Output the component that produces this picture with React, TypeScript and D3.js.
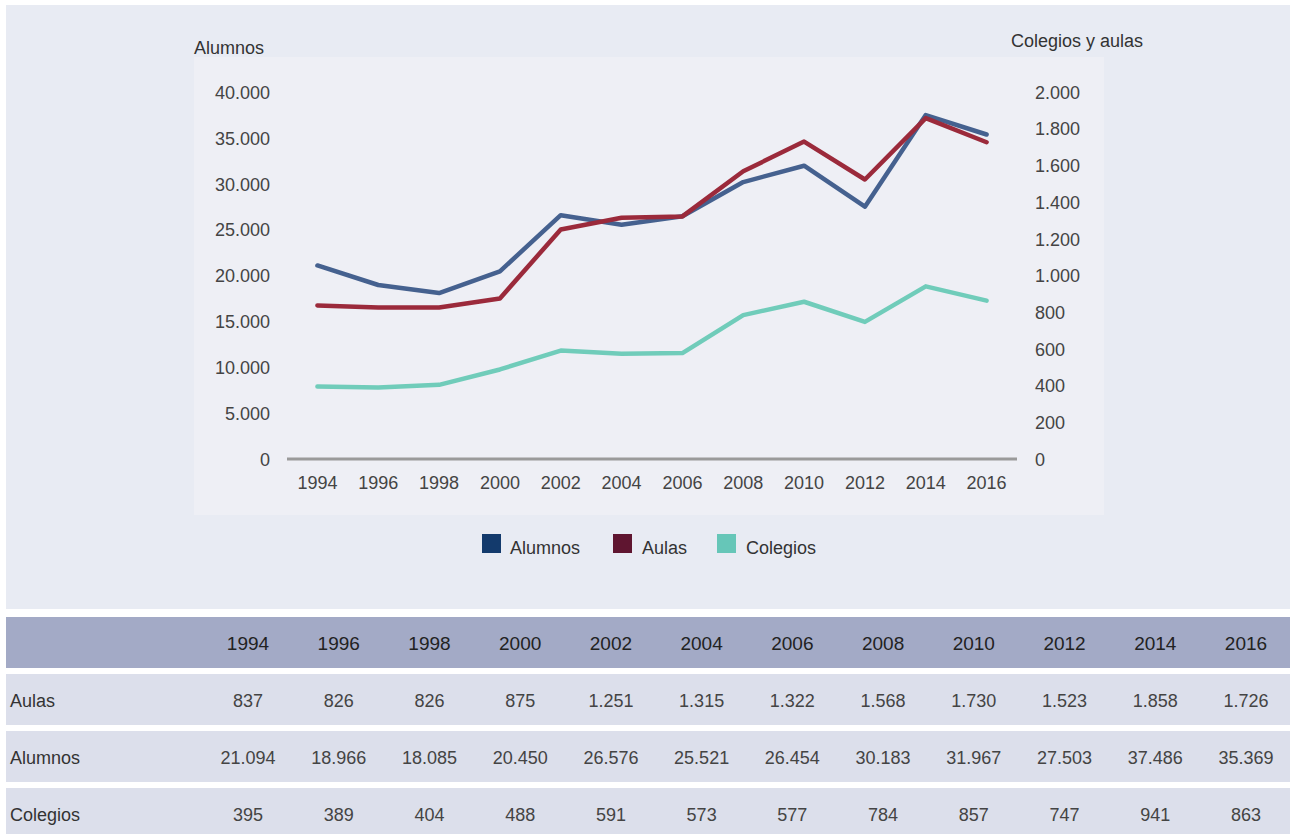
import React from "react";
import * as d3 from "d3";

const years = [1994, 1996, 1998, 2000, 2002, 2004, 2006, 2008, 2010, 2012, 2014, 2016];
const aulas = [837, 826, 826, 875, 1251, 1315, 1322, 1568, 1730, 1523, 1858, 1726];
const alumnos = [21094, 18966, 18085, 20450, 26576, 25521, 26454, 30183, 31967, 27503, 37486, 35369];
const colegios = [395, 389, 404, 488, 591, 573, 577, 784, 857, 747, 941, 863];
const leftTicks = [0, 5000, 10000, 15000, 20000, 25000, 30000, 35000, 40000];
const rightTicks = [0, 200, 400, 600, 800, 1000, 1200, 1400, 1600, 1800, 2000];

const esLocale = d3.formatLocale({ decimal: ",", thousands: ".", grouping: [3], currency: ["", "€"] });
const fmt = esLocale.format(",d");

const FONT = "'Liberation Sans', Arial, sans-serif";
const DY = 2;

export default function App() {
  const W = 1290, H = 834;
  const x = d3.scalePoint<number>().domain(years).range([287, 1017]).padding(0.5);
  const yL = d3.scaleLinear().domain([0, 40000]).range([459, 92]);
  const yR = d3.scaleLinear().domain([0, 2000]).range([459, 92]);
  const tx = d3.scalePoint<number>().domain(years).range([248, 1246]);

  const lineL = d3.line<number>().x((_, i) => x(years[i])!).y(d => yL(d));
  const lineR = d3.line<number>().x((_, i) => x(years[i])!).y(d => yR(d));

  const series = [
    { name: "Alumnos", d: lineL(alumnos), line: "#45618f", legend: "#133a6c" },
    { name: "Aulas", d: lineR(aulas), line: "#9b2a3b", legend: "#5f1530" },
    { name: "Colegios", d: lineR(colegios), line: "#70ccba", legend: "#66c6b8" },
  ];
  const drawOrder = [series[2], series[0], series[1]];

  const legendPos = [
    { sx: 482, tx: 510 },
    { sx: 613, tx: 642 },
    { sx: 717, tx: 746 },
  ];

  const rows = [
    { label: "Aulas", values: aulas, y0: 674, h: 51 },
    { label: "Alumnos", values: alumnos, y0: 731, h: 51 },
    { label: "Colegios", values: colegios, y0: 788, h: 51 },
  ];

  return (
    <svg width={W} height={H} style={{ position: "absolute", left: 0, top: 0, display: "block" }} fontFamily={FONT}>
      <rect x={0} y={0} width={W} height={H} fill="#ffffff" />
      <rect x={6} y={5} width={W - 6} height={604} fill="#e8ebf3" />
      <rect x={194} y={57} width={910} height={458} fill="#eeeff5" />

      <text x={194} y={47 + DY} fontSize={18} fill="#333" dominantBaseline="middle">Alumnos</text>
      <text x={1011} y={40 + DY} fontSize={18} fill="#333" dominantBaseline="middle">Colegios y aulas</text>

      {leftTicks.map(t => (
        <text key={"l" + t} x={270} y={yL(t) + DY} fontSize={18} fill="#444" textAnchor="end" dominantBaseline="middle">{fmt(t)}</text>
      ))}
      {rightTicks.map(t => (
        <text key={"r" + t} x={1035} y={yR(t) + DY} fontSize={18} fill="#444" textAnchor="start" dominantBaseline="middle">{fmt(t)}</text>
      ))}

      <line x1={287} x2={1017} y1={yL(0)} y2={yL(0)} stroke="#9a9a9a" strokeWidth={3} />
      {years.map(yr => (
        <text key={"x" + yr} x={x(yr)} y={482 + DY} fontSize={18} fill="#444" textAnchor="middle" dominantBaseline="middle">{yr}</text>
      ))}

      {drawOrder.map(s => (
        <path key={s.name} d={s.d || ""} fill="none" stroke={s.line} strokeWidth={4.5} strokeLinejoin="round" strokeLinecap="round" />
      ))}

      {series.map((s, i) => (
        <g key={"lg" + s.name}>
          <rect x={legendPos[i].sx} y={534} width={19} height={19} fill={s.legend} />
          <text x={legendPos[i].tx} y={547 + DY} fontSize={18} fill="#333" dominantBaseline="middle">{s.name}</text>
        </g>
      ))}

      <rect x={6} y={617} width={W - 6} height={51} fill="#a3aac6" />
      {years.map(yr => (
        <text key={"h" + yr} x={tx(yr)} y={643 + DY} fontSize={19} fill="#222" textAnchor="middle" dominantBaseline="middle">{yr}</text>
      ))}

      {rows.map(r => (
        <g key={"row" + r.label}>
          <rect x={6} y={r.y0} width={W - 6} height={r.h} fill="#dcdfeb" />
          <text x={10} y={r.y0 + 26 + DY} fontSize={18} fill="#333" dominantBaseline="middle">{r.label}</text>
          {r.values.map((v, i) => (
            <text key={i} x={tx(years[i])} y={r.y0 + 26 + DY} fontSize={18} fill="#444" textAnchor="middle" dominantBaseline="middle">{fmt(v)}</text>
          ))}
        </g>
      ))}
    </svg>
  );
}
